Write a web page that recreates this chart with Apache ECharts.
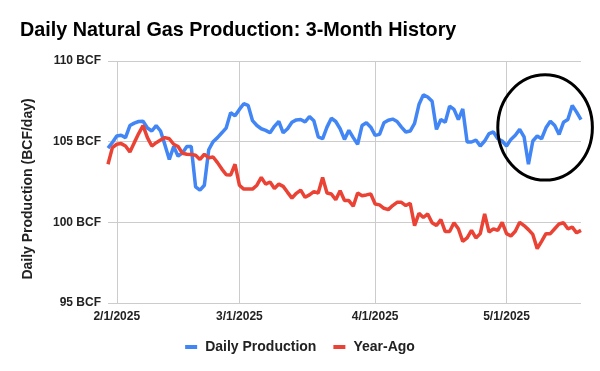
<!DOCTYPE html>
<html>
<head>
<meta charset="utf-8">
<script src="https://cdn.jsdelivr.net/npm/echarts@6/dist/echarts.min.js"></script>
<style>
html,body{margin:0;padding:0;background:#fff;}
#chart{width:600px;height:371px;}
</style>
</head>
<body>
<div id="chart"></div>
<script>
// ---- Data ----
const startDate = [2025, 1, 30]; // Jan 30, 2025 (first day shown)
const dailyProduction = [
  104.6, 104.95, 105.35, 105.4, 105.25, 106.0, 106.15, 106.25, 106.27, 105.85,
  105.66, 106.0, 105.66, 104.8, 103.9, 104.7, 104.1, 104.3, 104.7, 104.7,
  102.2, 102.0, 102.3, 104.5, 105.0, 105.25, 105.55, 105.86, 106.8, 106.6,
  107.0, 107.35, 107.25, 106.3, 106.0, 105.8, 105.7, 105.55, 105.95, 106.25,
  105.55, 105.8, 106.2, 106.35, 106.37, 106.23, 106.55, 106.3, 105.3, 105.18,
  105.9, 106.45, 106.25, 105.8, 105.14, 105.7, 105.25, 104.84, 106.0, 106.17,
  105.9, 105.39, 105.45, 106.17, 106.33, 106.4, 106.25, 105.9, 105.6, 105.66,
  106.13, 107.3, 107.9, 107.77, 107.5, 105.76, 106.37, 106.2, 107.2, 107.0,
  106.37, 107.03, 104.98, 104.98, 105.1, 104.73, 105.04, 105.5, 105.6, 105.18,
  105.04, 104.73, 105.14, 105.4, 105.76, 105.3, 103.6, 105.04, 105.35, 105.18,
  105.86, 106.27, 106.0, 105.45, 106.2, 106.37, 107.24, 106.83, 106.37
];
const yearAgo = [
  103.6, 104.63, 104.84, 104.88, 104.73, 104.36, 104.94, 105.5, 106.0, 105.25,
  104.73, 104.94, 105.1, 105.25, 105.18, 104.84, 104.7, 104.28, 104.22, 104.2,
  104.16, 103.9, 104.22, 104.0, 104.05, 103.7, 103.3, 102.95, 102.93, 103.6,
  102.3, 102.06, 102.06, 102.06, 102.3, 102.78, 102.37, 102.5, 102.1, 102.37,
  102.23, 101.86, 101.5, 101.8, 102.0, 101.55, 101.7, 101.9, 101.82, 102.78,
  101.82, 101.76, 101.4, 101.96, 101.35, 101.35, 101.0, 101.82, 101.65, 101.7,
  101.76, 101.14, 101.08, 100.87, 100.79, 101.04, 101.24, 101.24, 101.04, 101.18,
  99.8, 100.56, 100.3, 100.52, 99.97, 99.8, 100.17, 99.43, 99.43, 99.97,
  99.6, 98.82, 99.03, 99.5, 99.03, 99.3, 100.52, 99.4, 99.6, 99.5,
  100.0, 99.3, 99.15, 99.45, 100.0, 99.8, 99.55, 99.25, 98.37, 98.82,
  99.3, 99.3, 99.6, 99.9, 99.97, 99.6, 99.7, 99.35, 99.5
];
const seriesNames = ['Daily Production', 'Year-Ago'];
const yTicks = [95, 100, 105, 110];
const titleText = 'Daily Natural Gas Production: 3-Month History';
const yAxisTitle = 'Daily Production (BCF/day)';
// highlighted region (in data terms): date-index span and value span
const highlightIndexRange = [89, 110.6];
const highlightValueRange = [102.62, 109.14];

// categories: consecutive days
const categories = [];
(function () {
  const d = new Date(startDate[0], startDate[1] - 1, startDate[2]);
  for (let i = 0; i < dailyProduction.length; i++) {
    categories.push((d.getMonth() + 1) + '/' + d.getDate() + '/' + d.getFullYear());
    d.setDate(d.getDate() + 1);
  }
})();
const isMonthStart = (idx, val) => String(val).split('/')[1] === '1';

const FONT = '"Liberation Sans", Arial, sans-serif';
const chart = echarts.init(document.getElementById('chart'), null, { renderer: 'canvas' });

chart.setOption({
  animation: false,
  backgroundColor: '#fff',
  title: {
    text: titleText,
    left: 15, top: 16,
    textStyle: { fontFamily: FONT, fontSize: 19.8, fontWeight: 'bold', color: '#000' }
  },
  legend: {
    top: 335,
    left: 'center',
    itemGap: 17,
    itemWidth: 12, itemHeight: 4,
    icon: 'rect',
    data: seriesNames,
    textStyle: { fontFamily: FONT, fontSize: 14, fontWeight: 'bold', color: '#222', padding: [0, 0, 0, 3] }
  },
  grid: { left: 108, right: 19, top: 61, bottom: 68, containLabel: false },
  xAxis: {
    type: 'category',
    data: categories,
    boundaryGap: false,
    axisLine: { show: false },
    axisTick: { show: false },
    axisLabel: {
      interval: isMonthStart,
      margin: 8,
      fontFamily: FONT, fontSize: 12, fontWeight: 'bold', color: '#222'
    },
    splitLine: { show: true, interval: isMonthStart, lineStyle: { color: '#cccccc', width: 1 } }
  },
  yAxis: {
    type: 'value',
    min: yTicks[0], max: yTicks[yTicks.length - 1], interval: 5,
    name: yAxisTitle,
    nameLocation: 'middle',
    nameGap: 73,
    nameTextStyle: { fontFamily: FONT, fontSize: 14, fontWeight: 'bold', color: '#222', padding: [0, 14, 0, 0] },
    axisLine: { show: false },
    axisTick: { show: false },
    axisLabel: {
      formatter: '{value} BCF',
      margin: 7,
      fontFamily: FONT, fontSize: 12, fontWeight: 'bold', color: '#222'
    },
    splitLine: { lineStyle: { color: '#cccccc', width: 1 } }
  },
  series: [
    {
      name: seriesNames[0], type: 'line', data: dailyProduction,
      showSymbol: false, symbol: 'none',
      lineStyle: { color: '#4285F4', width: 3.5 }, itemStyle: { color: '#4285F4' },
      z: 2
    },
    {
      name: seriesNames[1], type: 'line', data: yearAgo,
      showSymbol: false, symbol: 'none',
      lineStyle: { color: '#EA4335', width: 3.5 }, itemStyle: { color: '#EA4335' },
      z: 3
    }
  ]
});

// annotation ellipse positioned from data coordinates
(function () {
  const p0 = chart.convertToPixel({ xAxisIndex: 0 }, categories[0]);
  const p1 = chart.convertToPixel({ xAxisIndex: 0 }, categories[categories.length - 1]);
  const pxPerIdx = (p1 - p0) / (categories.length - 1);
  const xL = p0 + highlightIndexRange[0] * pxPerIdx;
  const xR = p0 + highlightIndexRange[1] * pxPerIdx;
  const yT = chart.convertToPixel({ yAxisIndex: 0 }, highlightValueRange[1]);
  const yB = chart.convertToPixel({ yAxisIndex: 0 }, highlightValueRange[0]);
  chart.setOption({
    graphic: [{
      type: 'ellipse',
      shape: { cx: (xL + xR) / 2, cy: (yT + yB) / 2, rx: (xR - xL) / 2, ry: (yB - yT) / 2 },
      style: { fill: null, stroke: '#000', lineWidth: 3 },
      z: 100
    }]
  });
})();
</script>
</body>
</html>
